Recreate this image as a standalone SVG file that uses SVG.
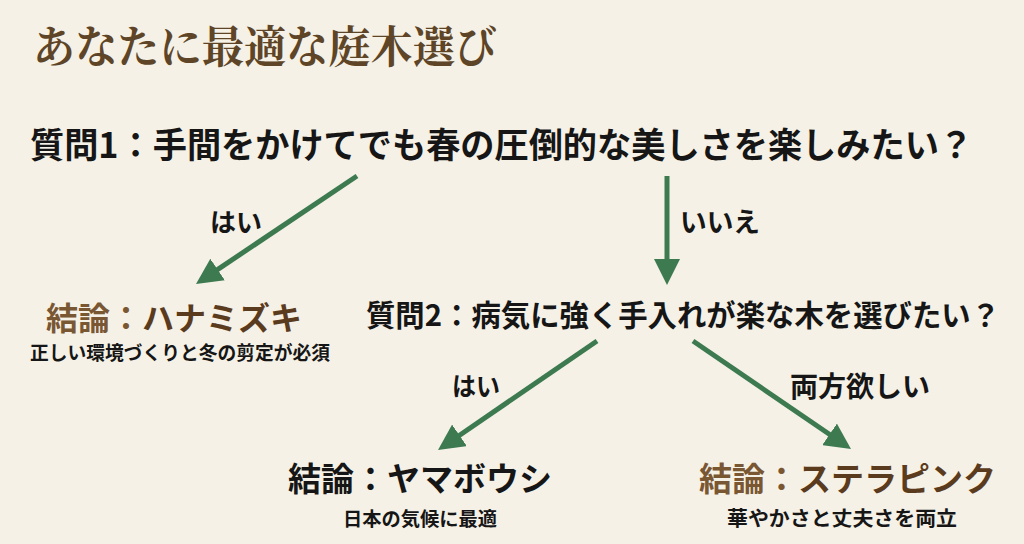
<svg xmlns="http://www.w3.org/2000/svg" width="1024" height="544" viewBox="0 0 1024 544">
<style>
.t{font-family:"Noto Sans CJK JP","Noto Sans CJK SC",sans-serif;font-weight:700;fill:#161616}
.title{font-family:"Noto Serif CJK JP","Noto Sans CJK JP",serif;font-weight:700;fill:#5e4527}
.b1{fill:#7a5733}
.b2{fill:#5b3b1d}
.conn{stroke:#3d7a50;stroke-width:5;fill:none;marker-end:url(#ah)}
</style>
<defs>
<marker id="ah" markerUnits="userSpaceOnUse" viewBox="0 0 26 26" refX="6" refY="13" markerWidth="26" markerHeight="26" orient="auto">
<path d="M0,0 L26,13 L0,26 z" fill="#3d7a50"/>
</marker>
</defs>
<rect width="1024" height="544" fill="#f5f1e6"/>
<text class="title" x="33" y="63" font-size="44" textLength="464" lengthAdjust="spacingAndGlyphs">あなたに最適な庭木選び</text>
<g id="connectors">
<line class="conn" x1="357" y1="176" x2="212.6" y2="272.9"/>
<line class="conn" x1="667" y1="176" x2="667" y2="265"/>
<line class="conn" x1="597" y1="341" x2="454.5" y2="438.7"/>
<line class="conn" x1="693" y1="341" x2="834.5" y2="437.7"/>
<text class="t" x="210" y="232" font-size="26" textLength="52" lengthAdjust="spacingAndGlyphs">はい</text>
<text class="t" x="680" y="232" font-size="27" textLength="80" lengthAdjust="spacingAndGlyphs">いいえ</text>
<text class="t" x="452" y="396" font-size="26" textLength="48" lengthAdjust="spacingAndGlyphs">はい</text>
<text class="t" x="790" y="397" font-size="28" textLength="140" lengthAdjust="spacingAndGlyphs">両方欲しい</text>
</g>
<g id="q1">
<text class="t" x="30" y="158" font-size="35" textLength="943" lengthAdjust="spacingAndGlyphs">質問1：手間をかけてでも春の圧倒的な美しさを楽しみたい？</text>
</g>
<g id="hanamizuki">
<text class="t b1" x="46" y="330" font-size="32">結論：</text>
<text class="t b2" x="142" y="330" font-size="32">ハナミズキ</text>
<text class="t" x="30" y="360" font-size="19" textLength="300" lengthAdjust="spacingAndGlyphs">正しい環境づくりと冬の剪定が必須</text>
</g>
<g id="q2">
<text class="t" x="366" y="326" font-size="30" textLength="634" lengthAdjust="spacingAndGlyphs">質問2：病気に強く手入れが楽な木を選びたい？</text>
</g>
<g id="yamaboushi">
<text class="t" x="288" y="491" font-size="33">結論：ヤマボウシ</text>
<text class="t" x="343" y="526" font-size="19" textLength="154" lengthAdjust="spacingAndGlyphs">日本の気候に最適</text>
</g>
<g id="stellapink">
<text class="t b1" x="699" y="491" font-size="33">結論：</text>
<text class="t b2" x="798" y="491" font-size="33">ステラピンク</text>
<text class="t" x="727" y="526" font-size="20" textLength="230" lengthAdjust="spacingAndGlyphs">華やかさと丈夫さを両立</text>
</g>
</svg>
